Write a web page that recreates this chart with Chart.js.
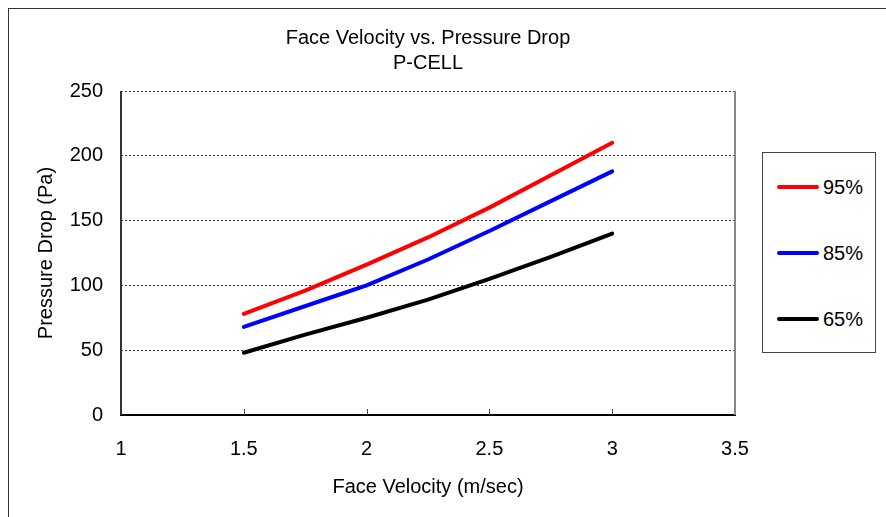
<!DOCTYPE html>
<html>
<head>
<meta charset="utf-8">
<script src="https://cdn.jsdelivr.net/npm/chart.js@4/dist/chart.umd.min.js"></script>
<style>
  html, body { margin: 0; padding: 0; background: #fff; overflow: hidden; }
  #wrap { position: relative; width: 886px; height: 517px; }
  #frame { position: absolute; left: 8px; top: 8px; width: 900px; height: 600px; border: 1px solid #333; box-sizing: border-box; }
  #legend { position: absolute; left: 762px; top: 152px; width: 114px; height: 201px; border: 1px solid #444; box-sizing: border-box; background: #fff;
            font-family: "Liberation Sans", Arial, sans-serif; font-size: 20px; color: #000; }
  .item { position: absolute; left: 14px; height: 24px; line-height: 24px; }
  .item span.ln { position: absolute; left: 0; top: 10px; width: 42px; height: 4px; border-radius: 2px; }
  .item span.tx { position: absolute; left: 46px; top: 0; white-space: nowrap; }
  canvas { position: absolute; left: 0; top: 0; }
</style>
</head>
<body>
<div id="wrap">
  <div id="frame"></div>
  <canvas id="chart" width="886" height="517"></canvas>
  <div id="legend"></div>
</div>
<script>
// donnees
const seriesNames = ['95%', '85%', '65%'];
const seriesColors = ['#ff0000', '#0000ff', '#000000'];

const vel95 = [1.5, 1.75, 2.0, 2.25, 2.5, 2.75, 3.0];
const drop95 = [78, 96, 116, 137, 160, 185, 210];

const vel85 = [1.5, 1.875, 2.0, 2.25, 2.5, 2.75, 3.0];
const drop85 = [68, 92, 100, 120, 142, 165, 188];

const vel65 = [1.5, 1.75, 2.0, 2.25, 2.5, 2.75, 3.0];
const drop65 = [48, 62, 75, 89, 105, 122, 140];

const xTicks = [1, 1.5, 2, 2.5, 3, 3.5];
const yTicks = [0, 50, 100, 150, 200, 250];

const FONT = '"Liberation Sans", Arial, sans-serif';

function toPoints(xs, ys) {
    return xs.map((x, i) => ({ x: x, y: ys[i] }));
}

const allX = [vel95, vel85, vel65];
const allY = [drop95, drop85, drop65];

const datasets = seriesNames.map((name, i) => ({
    label: name,
    data: toPoints(allX[i], allY[i]),
    borderColor: seriesColors[i],
    backgroundColor: seriesColors[i],
    borderWidth: 4,
    borderCapStyle: 'round',
    borderJoinStyle: 'round',
    pointRadius: 0,
    tension: 0,
    showLine: true
}));

// cadre du graphique + petites graduations vers l'interieur
const framePlugin = {
    id: 'frame',
    beforeDatasetsDraw(chart) {
        const { ctx, chartArea } = chart;
        const xs = chart.scales.x;
        ctx.save();
        ctx.setLineDash([]);
        // bord droit gris
        ctx.strokeStyle = '#888';
        ctx.lineWidth = 2;
        ctx.beginPath();
        ctx.moveTo(chartArea.right, chartArea.top);
        ctx.lineTo(chartArea.right, chartArea.bottom);
        ctx.stroke();
        // axe gauche plein
        ctx.strokeStyle = '#333';
        ctx.beginPath();
        ctx.moveTo(chartArea.left, chartArea.top);
        ctx.lineTo(chartArea.left, chartArea.bottom);
        ctx.stroke();
        // graduations x
        ctx.strokeStyle = '#444';
        ctx.lineWidth = 1;
        xTicks.slice(1, -1).forEach((v) => {
            const px = Math.round(xs.getPixelForValue(v)) + 0.5;
            ctx.beginPath();
            ctx.moveTo(px, chartArea.bottom);
            ctx.lineTo(px, chartArea.bottom - 6);
            ctx.stroke();
        });
        ctx.restore();
    }
};

const config = {
    type: 'scatter',
    data: { datasets: datasets },
    options: {
        responsive: false,
        animation: false,
        layout: { padding: { left: 0, right: 151, top: 0, bottom: 0 } },
        plugins: {
            legend: { display: false },
            tooltip: { enabled: false },
            title: {
                display: true,
                fullSize: false,
                text: ['Face Velocity vs. Pressure Drop', 'P-CELL'],
                color: '#000',
                font: { family: FONT, size: 20, weight: 'normal', lineHeight: 1.25 },
                padding: { top: 26, bottom: 15 }
            }
        },
        scales: {
            x: {
                type: 'linear',
                min: 1,
                max: 3.5,
                afterBuildTicks(scale) { scale.ticks = xTicks.map((v) => ({ value: v })); },
                afterFit(scale) { scale.height = 517 - 415; },
                grid: { display: false, drawTicks: false },
                border: { display: true, color: '#000', width: 2 },
                ticks: {
                    color: '#000', padding: 22, maxRotation: 0,
                    font: { family: FONT, size: 20 },
                    callback: (v) => String(v)
                },
                title: {
                    display: true,
                    text: 'Face Velocity (m/sec)',
                    color: '#000',
                    font: { family: FONT, size: 20, lineHeight: 1.2 },
                    padding: { top: 0, bottom: 18 }
                }
            },
            y: {
                min: 0,
                max: 250,
                afterBuildTicks(scale) { scale.ticks = yTicks.map((v) => ({ value: v })); },
                afterFit(scale) { scale.width = 121; },
                grid: {
                    color: (c) => (c.tick && c.tick.value === 0 ? 'rgba(0,0,0,0)' : '#333'),
                    lineWidth: 1,
                    drawTicks: false
                },
                // en v4 border.dash s'applique aux lignes de grille
                border: { display: false, dash: [2, 2] },
                ticks: { color: '#000', padding: 18, font: { family: FONT, size: 20 } },
                title: {
                    display: true,
                    text: 'Pressure Drop (Pa)',
                    color: '#000',
                    font: { family: FONT, size: 20, lineHeight: 1.2 },
                    padding: { top: 34, bottom: 0 }
                }
            }
        }
    },
    plugins: [framePlugin]
};

const ctx = document.getElementById('chart').getContext('2d');
const myChart = new Chart(ctx, config);

// legende html
const legend = document.getElementById('legend');
const rowTops = [22, 88, 154];
seriesNames.forEach((name, i) => {
    const item = document.createElement('div');
    item.className = 'item';
    item.style.top = rowTops[i] + 'px';
    item.innerHTML = '<span class="ln" style="background:' + seriesColors[i] + '"></span><span class="tx">' + name + '</span>';
    legend.appendChild(item);
});
</script>
</body>
</html>
